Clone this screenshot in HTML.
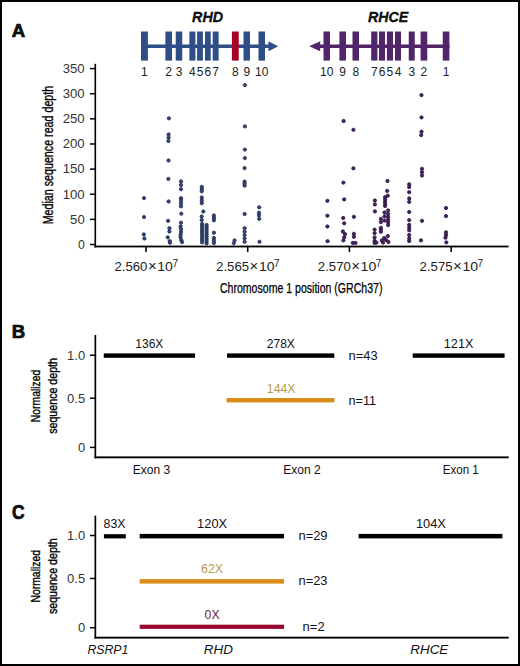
<!DOCTYPE html>
<html><head><meta charset="utf-8"><title>Figure</title>
<style>
html,body{margin:0;padding:0;background:#fff;}
body{width:520px;height:666px;overflow:hidden;}
svg{display:block;}
text{font-family:"Liberation Sans", sans-serif;}
</style></head>
<body>
<svg width="520" height="666" viewBox="0 0 520 666">
<rect x="0" y="0" width="520" height="666" fill="#fff"/>
<rect x="141" y="44.5" width="129" height="3.5" fill="#2d4e86"/>
<polygon points="268.5,41.2 278.2,46.25 268.5,51.3" fill="#2d4e86"/>
<rect x="141" y="31.5" width="6.9" height="29.1" fill="#2d4e86"/>
<rect x="165.4" y="31.5" width="6.6" height="29.1" fill="#2d4e86"/>
<rect x="175.75" y="31.5" width="6.5" height="29.1" fill="#2d4e86"/>
<rect x="189.4" y="31.5" width="6.0" height="29.1" fill="#2d4e86"/>
<rect x="197.1" y="31.5" width="5.8" height="29.1" fill="#2d4e86"/>
<rect x="205" y="31.5" width="5.7" height="29.1" fill="#2d4e86"/>
<rect x="212.7" y="31.5" width="5.9" height="29.1" fill="#2d4e86"/>
<rect x="231.9" y="31.5" width="6.85" height="29.1" fill="#a50426"/>
<rect x="243.5" y="31.5" width="6.5" height="29.1" fill="#2d4e86"/>
<rect x="258.5" y="31.5" width="6.5" height="29.1" fill="#2d4e86"/>
<rect x="319" y="44.5" width="130.4" height="3.5" fill="#52246a"/>
<polygon points="309.2,46.25 320.2,41.2 320.2,51.3" fill="#52246a"/>
<rect x="323.5" y="31.5" width="6.5" height="29.1" fill="#52246a"/>
<rect x="339.4" y="31.5" width="6.6" height="29.1" fill="#52246a"/>
<rect x="352.5" y="31.5" width="6.5" height="29.1" fill="#52246a"/>
<rect x="371.2" y="31.5" width="6.2" height="29.1" fill="#52246a"/>
<rect x="379" y="31.5" width="6" height="29.1" fill="#52246a"/>
<rect x="386.9" y="31.5" width="6.1" height="29.1" fill="#52246a"/>
<rect x="395" y="31.5" width="6" height="29.1" fill="#52246a"/>
<rect x="408.75" y="31.5" width="6.0" height="29.1" fill="#52246a"/>
<rect x="420.6" y="31.5" width="6.65" height="29.1" fill="#52246a"/>
<rect x="442.75" y="31.5" width="6.65" height="29.1" fill="#52246a"/>
<text x="144.45" y="76.2" font-size="12" text-anchor="middle" fill="#222" font-weight="normal" font-style="normal" >1</text>
<text x="168.7" y="76.2" font-size="12" text-anchor="middle" fill="#222" font-weight="normal" font-style="normal" >2</text>
<text x="179.0" y="76.2" font-size="12" text-anchor="middle" fill="#222" font-weight="normal" font-style="normal" >3</text>
<text x="192.4" y="76.2" font-size="12" text-anchor="middle" fill="#222" font-weight="normal" font-style="normal" >4</text>
<text x="200.0" y="76.2" font-size="12" text-anchor="middle" fill="#222" font-weight="normal" font-style="normal" >5</text>
<text x="207.85" y="76.2" font-size="12" text-anchor="middle" fill="#222" font-weight="normal" font-style="normal" >6</text>
<text x="215.65" y="76.2" font-size="12" text-anchor="middle" fill="#222" font-weight="normal" font-style="normal" >7</text>
<text x="235.32" y="76.2" font-size="12" text-anchor="middle" fill="#222" font-weight="normal" font-style="normal" >8</text>
<text x="246.75" y="76.2" font-size="12" text-anchor="middle" fill="#222" font-weight="normal" font-style="normal" >9</text>
<text x="261.75" y="76.2" font-size="12" text-anchor="middle" fill="#222" font-weight="normal" font-style="normal" >10</text>
<text x="326.75" y="76.2" font-size="12" text-anchor="middle" fill="#222" font-weight="normal" font-style="normal" >10</text>
<text x="342.7" y="76.2" font-size="12" text-anchor="middle" fill="#222" font-weight="normal" font-style="normal" >9</text>
<text x="355.75" y="76.2" font-size="12" text-anchor="middle" fill="#222" font-weight="normal" font-style="normal" >8</text>
<text x="374.3" y="76.2" font-size="12" text-anchor="middle" fill="#222" font-weight="normal" font-style="normal" >7</text>
<text x="382.0" y="76.2" font-size="12" text-anchor="middle" fill="#222" font-weight="normal" font-style="normal" >6</text>
<text x="389.95" y="76.2" font-size="12" text-anchor="middle" fill="#222" font-weight="normal" font-style="normal" >5</text>
<text x="398.0" y="76.2" font-size="12" text-anchor="middle" fill="#222" font-weight="normal" font-style="normal" >4</text>
<text x="411.75" y="76.2" font-size="12" text-anchor="middle" fill="#222" font-weight="normal" font-style="normal" >3</text>
<text x="423.93" y="76.2" font-size="12" text-anchor="middle" fill="#222" font-weight="normal" font-style="normal" >2</text>
<text x="446.07" y="76.2" font-size="12" text-anchor="middle" fill="#222" font-weight="normal" font-style="normal" >1</text>
<text x="207.6" y="22.2" font-size="14.3" text-anchor="middle" fill="#111" font-weight="bold" font-style="italic" stroke="#000" stroke-width="0.3">RHD</text>
<text x="388" y="22.3" font-size="14.2" text-anchor="middle" fill="#111" font-weight="bold" font-style="italic" stroke="#000" stroke-width="0.3">RHCE</text>
<text x="11.7" y="37.4" font-size="18.6" text-anchor="start" fill="#111" font-weight="bold" font-style="normal" stroke="#000" stroke-width="0.7">A</text>
<text x="11.8" y="337.8" font-size="18.6" text-anchor="start" fill="#111" font-weight="bold" font-style="normal" stroke="#000" stroke-width="0.7">B</text>
<text x="11.9" y="519.2" font-size="19.6" text-anchor="start" fill="#111" font-weight="bold" font-style="normal" textLength="12.6" lengthAdjust="spacingAndGlyphs" stroke="#000" stroke-width="0.7">C</text>
<rect x="94.5" y="63.8" width="1.6" height="183.6" fill="#000"/>
<rect x="94.5" y="245.6" width="414.1" height="1.8" fill="#000"/>
<rect x="90" y="243.75" width="5" height="1.5" fill="#000"/>
<text x="84.7" y="248.8" font-size="13" text-anchor="end" fill="#333" font-weight="normal" font-style="normal" textLength="6.8" lengthAdjust="spacingAndGlyphs" >0</text>
<rect x="90" y="218.62" width="5" height="1.5" fill="#000"/>
<text x="84.7" y="223.67" font-size="13" text-anchor="end" fill="#333" font-weight="normal" font-style="normal" textLength="14.6" lengthAdjust="spacingAndGlyphs" >50</text>
<rect x="90" y="193.49" width="5" height="1.5" fill="#000"/>
<text x="84.7" y="198.54" font-size="13" text-anchor="end" fill="#333" font-weight="normal" font-style="normal" textLength="22" lengthAdjust="spacingAndGlyphs" >100</text>
<rect x="90" y="168.36" width="5" height="1.5" fill="#000"/>
<text x="84.7" y="173.41" font-size="13" text-anchor="end" fill="#333" font-weight="normal" font-style="normal" textLength="22" lengthAdjust="spacingAndGlyphs" >150</text>
<rect x="90" y="143.23" width="5" height="1.5" fill="#000"/>
<text x="84.7" y="148.28" font-size="13" text-anchor="end" fill="#333" font-weight="normal" font-style="normal" textLength="22" lengthAdjust="spacingAndGlyphs" >200</text>
<rect x="90" y="118.1" width="5" height="1.5" fill="#000"/>
<text x="84.7" y="123.15" font-size="13" text-anchor="end" fill="#333" font-weight="normal" font-style="normal" textLength="22" lengthAdjust="spacingAndGlyphs" >250</text>
<rect x="90" y="92.97" width="5" height="1.5" fill="#000"/>
<text x="84.7" y="98.02" font-size="13" text-anchor="end" fill="#333" font-weight="normal" font-style="normal" textLength="22" lengthAdjust="spacingAndGlyphs" >300</text>
<rect x="90" y="67.83999999999997" width="5" height="1.5" fill="#000"/>
<text x="84.7" y="72.89" font-size="13" text-anchor="end" fill="#333" font-weight="normal" font-style="normal" textLength="22" lengthAdjust="spacingAndGlyphs" >350</text>
<rect x="145.2" y="247" width="1.6" height="4.9" fill="#000"/>
<text x="114.4" y="271" font-size="12.6" fill="#222" textLength="33" lengthAdjust="spacingAndGlyphs">2.560</text>
<text x="152.3" y="270.9" font-size="15" text-anchor="middle" fill="#222">×</text>
<text x="157.2" y="271" font-size="12.6" fill="#222" textLength="15.6" lengthAdjust="spacingAndGlyphs">10</text>
<text x="172.4" y="267" font-size="10" fill="#222">7</text>
<rect x="246.89999999999998" y="247" width="1.6" height="4.9" fill="#000"/>
<text x="216.1" y="271" font-size="12.6" fill="#222" textLength="33" lengthAdjust="spacingAndGlyphs">2.565</text>
<text x="254.0" y="270.9" font-size="15" text-anchor="middle" fill="#222">×</text>
<text x="258.9" y="271" font-size="12.6" fill="#222" textLength="15.6" lengthAdjust="spacingAndGlyphs">10</text>
<text x="274.1" y="267" font-size="10" fill="#222">7</text>
<rect x="348.59999999999997" y="247" width="1.6" height="4.9" fill="#000"/>
<text x="317.8" y="271" font-size="12.6" fill="#222" textLength="33" lengthAdjust="spacingAndGlyphs">2.570</text>
<text x="355.7" y="270.9" font-size="15" text-anchor="middle" fill="#222">×</text>
<text x="360.6" y="271" font-size="12.6" fill="#222" textLength="15.6" lengthAdjust="spacingAndGlyphs">10</text>
<text x="375.8" y="267" font-size="10" fill="#222">7</text>
<rect x="450.4" y="247" width="1.6" height="4.9" fill="#000"/>
<text x="419.6" y="271" font-size="12.6" fill="#222" textLength="33" lengthAdjust="spacingAndGlyphs">2.575</text>
<text x="457.5" y="270.9" font-size="15" text-anchor="middle" fill="#222">×</text>
<text x="462.4" y="271" font-size="12.6" fill="#222" textLength="15.6" lengthAdjust="spacingAndGlyphs">10</text>
<text x="477.6" y="267" font-size="10" fill="#222">7</text>
<text x="301.2" y="293" font-size="14" text-anchor="middle" fill="#000" stroke="#000" stroke-width="0.25" textLength="162.5" lengthAdjust="spacingAndGlyphs">Chromosome 1 position (GRCh37)</text>
<text transform="translate(53,224.3) rotate(-90)" font-size="15" fill="#000" stroke="#000" stroke-width="0.35" textLength="138.5" lengthAdjust="spacingAndGlyphs">Median sequence read depth</text>
<circle cx="144" cy="198.1" r="1.65" fill="#314a86" stroke="#1d2844" stroke-width="0.8"/>
<circle cx="144" cy="217.1" r="1.65" fill="#314a86" stroke="#1d2844" stroke-width="0.8"/>
<circle cx="143.8" cy="234.4" r="1.65" fill="#314a86" stroke="#1d2844" stroke-width="0.8"/>
<circle cx="144.4" cy="238.5" r="1.65" fill="#314a86" stroke="#1d2844" stroke-width="0.8"/>
<circle cx="168.9" cy="118.3" r="1.65" fill="#314a86" stroke="#1d2844" stroke-width="0.8"/>
<circle cx="168.6" cy="134.4" r="1.65" fill="#314a86" stroke="#1d2844" stroke-width="0.8"/>
<circle cx="168.6" cy="137.6" r="1.65" fill="#314a86" stroke="#1d2844" stroke-width="0.8"/>
<circle cx="168.4" cy="141" r="1.65" fill="#314a86" stroke="#1d2844" stroke-width="0.8"/>
<circle cx="168.5" cy="160.5" r="1.65" fill="#314a86" stroke="#1d2844" stroke-width="0.8"/>
<circle cx="168.4" cy="178.9" r="1.65" fill="#314a86" stroke="#1d2844" stroke-width="0.8"/>
<circle cx="168.6" cy="201.5" r="1.65" fill="#314a86" stroke="#1d2844" stroke-width="0.8"/>
<circle cx="168.1" cy="220.8" r="1.65" fill="#314a86" stroke="#1d2844" stroke-width="0.8"/>
<circle cx="169.4" cy="228.2" r="1.65" fill="#314a86" stroke="#1d2844" stroke-width="0.8"/>
<circle cx="169.4" cy="231.5" r="1.65" fill="#314a86" stroke="#1d2844" stroke-width="0.8"/>
<circle cx="167.7" cy="237.3" r="1.65" fill="#314a86" stroke="#1d2844" stroke-width="0.8"/>
<circle cx="169.7" cy="241.1" r="1.65" fill="#314a86" stroke="#1d2844" stroke-width="0.8"/>
<circle cx="170" cy="242.7" r="1.65" fill="#314a86" stroke="#1d2844" stroke-width="0.8"/>
<circle cx="181" cy="181.4" r="1.65" fill="#314a86" stroke="#1d2844" stroke-width="0.8"/>
<circle cx="181" cy="185" r="1.65" fill="#314a86" stroke="#1d2844" stroke-width="0.8"/>
<circle cx="181" cy="189.2" r="1.65" fill="#314a86" stroke="#1d2844" stroke-width="0.8"/>
<circle cx="181" cy="198.2" r="1.65" fill="#314a86" stroke="#1d2844" stroke-width="0.8"/>
<circle cx="181" cy="200.6" r="1.65" fill="#314a86" stroke="#1d2844" stroke-width="0.8"/>
<circle cx="181" cy="203.4" r="1.65" fill="#314a86" stroke="#1d2844" stroke-width="0.8"/>
<circle cx="181" cy="206.3" r="1.65" fill="#314a86" stroke="#1d2844" stroke-width="0.8"/>
<circle cx="181.3" cy="213.7" r="1.65" fill="#314a86" stroke="#1d2844" stroke-width="0.8"/>
<circle cx="181" cy="222.7" r="1.65" fill="#314a86" stroke="#1d2844" stroke-width="0.8"/>
<circle cx="180.6" cy="226.3" r="1.65" fill="#314a86" stroke="#1d2844" stroke-width="0.8"/>
<circle cx="181" cy="229.2" r="1.65" fill="#314a86" stroke="#1d2844" stroke-width="0.8"/>
<circle cx="181" cy="232.1" r="1.65" fill="#314a86" stroke="#1d2844" stroke-width="0.8"/>
<circle cx="180.6" cy="234.7" r="1.65" fill="#314a86" stroke="#1d2844" stroke-width="0.8"/>
<circle cx="180.6" cy="237.3" r="1.65" fill="#314a86" stroke="#1d2844" stroke-width="0.8"/>
<circle cx="181.3" cy="240.2" r="1.65" fill="#314a86" stroke="#1d2844" stroke-width="0.8"/>
<circle cx="182" cy="242.1" r="1.65" fill="#314a86" stroke="#1d2844" stroke-width="0.8"/>
<circle cx="201.8" cy="186.8" r="1.65" fill="#314a86" stroke="#1d2844" stroke-width="0.8"/>
<circle cx="201.8" cy="189" r="1.65" fill="#314a86" stroke="#1d2844" stroke-width="0.8"/>
<circle cx="201.8" cy="191.3" r="1.65" fill="#314a86" stroke="#1d2844" stroke-width="0.8"/>
<circle cx="201.8" cy="197.5" r="1.65" fill="#314a86" stroke="#1d2844" stroke-width="0.8"/>
<circle cx="201.8" cy="200.3" r="1.65" fill="#314a86" stroke="#1d2844" stroke-width="0.8"/>
<circle cx="201.8" cy="203.2" r="1.65" fill="#314a86" stroke="#1d2844" stroke-width="0.8"/>
<circle cx="203.3" cy="211.5" r="1.65" fill="#314a86" stroke="#1d2844" stroke-width="0.8"/>
<circle cx="201.7" cy="216.5" r="1.65" fill="#314a86" stroke="#1d2844" stroke-width="0.8"/>
<circle cx="201.7" cy="220" r="1.65" fill="#314a86" stroke="#1d2844" stroke-width="0.8"/>
<circle cx="213.9" cy="215.5" r="1.65" fill="#314a86" stroke="#1d2844" stroke-width="0.8"/>
<circle cx="213.9" cy="218" r="1.65" fill="#314a86" stroke="#1d2844" stroke-width="0.8"/>
<circle cx="213.9" cy="220.3" r="1.65" fill="#314a86" stroke="#1d2844" stroke-width="0.8"/>
<circle cx="213.9" cy="232.7" r="1.65" fill="#314a86" stroke="#1d2844" stroke-width="0.8"/>
<circle cx="213.9" cy="238" r="1.65" fill="#314a86" stroke="#1d2844" stroke-width="0.8"/>
<circle cx="213.9" cy="240.5" r="1.65" fill="#314a86" stroke="#1d2844" stroke-width="0.8"/>
<circle cx="213.9" cy="243" r="1.65" fill="#314a86" stroke="#1d2844" stroke-width="0.8"/>
<circle cx="244.9" cy="85.1" r="1.65" fill="#314a86" stroke="#1d2844" stroke-width="0.8"/>
<circle cx="244.9" cy="126.4" r="1.65" fill="#314a86" stroke="#1d2844" stroke-width="0.8"/>
<circle cx="244.9" cy="149.6" r="1.65" fill="#314a86" stroke="#1d2844" stroke-width="0.8"/>
<circle cx="244.9" cy="158.1" r="1.65" fill="#314a86" stroke="#1d2844" stroke-width="0.8"/>
<circle cx="244.6" cy="168.1" r="1.65" fill="#314a86" stroke="#1d2844" stroke-width="0.8"/>
<circle cx="244.6" cy="181.6" r="1.65" fill="#314a86" stroke="#1d2844" stroke-width="0.8"/>
<circle cx="244.6" cy="183.6" r="1.65" fill="#314a86" stroke="#1d2844" stroke-width="0.8"/>
<circle cx="244.6" cy="185.7" r="1.65" fill="#314a86" stroke="#1d2844" stroke-width="0.8"/>
<circle cx="244.6" cy="214" r="1.65" fill="#314a86" stroke="#1d2844" stroke-width="0.8"/>
<circle cx="244.6" cy="228.2" r="1.65" fill="#314a86" stroke="#1d2844" stroke-width="0.8"/>
<circle cx="244.6" cy="231.6" r="1.65" fill="#314a86" stroke="#1d2844" stroke-width="0.8"/>
<circle cx="244.6" cy="235" r="1.65" fill="#314a86" stroke="#1d2844" stroke-width="0.8"/>
<circle cx="244.6" cy="238.4" r="1.65" fill="#314a86" stroke="#1d2844" stroke-width="0.8"/>
<circle cx="244.6" cy="241.8" r="1.65" fill="#314a86" stroke="#1d2844" stroke-width="0.8"/>
<circle cx="234.6" cy="240.4" r="1.65" fill="#314a86" stroke="#1d2844" stroke-width="0.8"/>
<circle cx="233.8" cy="243.1" r="1.65" fill="#314a86" stroke="#1d2844" stroke-width="0.8"/>
<circle cx="259.2" cy="207.3" r="1.65" fill="#314a86" stroke="#1d2844" stroke-width="0.8"/>
<circle cx="259" cy="212.7" r="1.65" fill="#314a86" stroke="#1d2844" stroke-width="0.8"/>
<circle cx="259" cy="215.4" r="1.65" fill="#314a86" stroke="#1d2844" stroke-width="0.8"/>
<circle cx="259.2" cy="218.8" r="1.65" fill="#314a86" stroke="#1d2844" stroke-width="0.8"/>
<circle cx="259.5" cy="241.8" r="1.65" fill="#314a86" stroke="#1d2844" stroke-width="0.8"/>
<circle cx="202.1" cy="224.0" r="1.65" fill="#314a86" stroke="#1d2844" stroke-width="0.8"/>
<circle cx="206.6" cy="225.0" r="1.65" fill="#314a86" stroke="#1d2844" stroke-width="0.8"/>
<circle cx="202.1" cy="226.3" r="1.65" fill="#314a86" stroke="#1d2844" stroke-width="0.8"/>
<circle cx="206.6" cy="227.3" r="1.65" fill="#314a86" stroke="#1d2844" stroke-width="0.8"/>
<circle cx="202.1" cy="228.6" r="1.65" fill="#314a86" stroke="#1d2844" stroke-width="0.8"/>
<circle cx="206.6" cy="229.6" r="1.65" fill="#314a86" stroke="#1d2844" stroke-width="0.8"/>
<circle cx="202.1" cy="230.9" r="1.65" fill="#314a86" stroke="#1d2844" stroke-width="0.8"/>
<circle cx="206.6" cy="231.9" r="1.65" fill="#314a86" stroke="#1d2844" stroke-width="0.8"/>
<circle cx="202.1" cy="233.2" r="1.65" fill="#314a86" stroke="#1d2844" stroke-width="0.8"/>
<circle cx="206.6" cy="234.2" r="1.65" fill="#314a86" stroke="#1d2844" stroke-width="0.8"/>
<circle cx="202.1" cy="235.5" r="1.65" fill="#314a86" stroke="#1d2844" stroke-width="0.8"/>
<circle cx="206.6" cy="236.5" r="1.65" fill="#314a86" stroke="#1d2844" stroke-width="0.8"/>
<circle cx="202.1" cy="237.8" r="1.65" fill="#314a86" stroke="#1d2844" stroke-width="0.8"/>
<circle cx="206.6" cy="238.8" r="1.65" fill="#314a86" stroke="#1d2844" stroke-width="0.8"/>
<circle cx="202.1" cy="240.1" r="1.65" fill="#314a86" stroke="#1d2844" stroke-width="0.8"/>
<circle cx="206.6" cy="241.1" r="1.65" fill="#314a86" stroke="#1d2844" stroke-width="0.8"/>
<circle cx="202.1" cy="242.4" r="1.65" fill="#314a86" stroke="#1d2844" stroke-width="0.8"/>
<circle cx="206.6" cy="243.4" r="1.65" fill="#314a86" stroke="#1d2844" stroke-width="0.8"/>
<circle cx="327.4" cy="200.8" r="1.65" fill="#4a2068" stroke="#2a1238" stroke-width="0.8"/>
<circle cx="327.4" cy="215.7" r="1.65" fill="#4a2068" stroke="#2a1238" stroke-width="0.8"/>
<circle cx="327.4" cy="226.5" r="1.65" fill="#4a2068" stroke="#2a1238" stroke-width="0.8"/>
<circle cx="327.6" cy="241.2" r="1.65" fill="#4a2068" stroke="#2a1238" stroke-width="0.8"/>
<circle cx="343.6" cy="121" r="1.65" fill="#4a2068" stroke="#2a1238" stroke-width="0.8"/>
<circle cx="343.4" cy="182.6" r="1.65" fill="#4a2068" stroke="#2a1238" stroke-width="0.8"/>
<circle cx="344.2" cy="199.4" r="1.65" fill="#4a2068" stroke="#2a1238" stroke-width="0.8"/>
<circle cx="343.2" cy="218" r="1.65" fill="#4a2068" stroke="#2a1238" stroke-width="0.8"/>
<circle cx="344.2" cy="223.3" r="1.65" fill="#4a2068" stroke="#2a1238" stroke-width="0.8"/>
<circle cx="342.9" cy="231.5" r="1.65" fill="#4a2068" stroke="#2a1238" stroke-width="0.8"/>
<circle cx="345" cy="234.1" r="1.65" fill="#4a2068" stroke="#2a1238" stroke-width="0.8"/>
<circle cx="344.2" cy="237.3" r="1.65" fill="#4a2068" stroke="#2a1238" stroke-width="0.8"/>
<circle cx="343.4" cy="240.4" r="1.65" fill="#4a2068" stroke="#2a1238" stroke-width="0.8"/>
<circle cx="353.4" cy="129.8" r="1.65" fill="#4a2068" stroke="#2a1238" stroke-width="0.8"/>
<circle cx="353.4" cy="168.3" r="1.65" fill="#4a2068" stroke="#2a1238" stroke-width="0.8"/>
<circle cx="353.9" cy="216.8" r="1.65" fill="#4a2068" stroke="#2a1238" stroke-width="0.8"/>
<circle cx="353.9" cy="233.8" r="1.65" fill="#4a2068" stroke="#2a1238" stroke-width="0.8"/>
<circle cx="353.9" cy="236.8" r="1.65" fill="#4a2068" stroke="#2a1238" stroke-width="0.8"/>
<circle cx="352.8" cy="242.9" r="1.65" fill="#4a2068" stroke="#2a1238" stroke-width="0.8"/>
<circle cx="355.5" cy="242.9" r="1.65" fill="#4a2068" stroke="#2a1238" stroke-width="0.8"/>
<circle cx="387.5" cy="181" r="1.65" fill="#4a2068" stroke="#2a1238" stroke-width="0.8"/>
<circle cx="387.2" cy="190.9" r="1.65" fill="#4a2068" stroke="#2a1238" stroke-width="0.8"/>
<circle cx="387.8" cy="195.7" r="1.65" fill="#4a2068" stroke="#2a1238" stroke-width="0.8"/>
<circle cx="385.1" cy="197.2" r="1.65" fill="#4a2068" stroke="#2a1238" stroke-width="0.8"/>
<circle cx="385.1" cy="199.6" r="1.65" fill="#4a2068" stroke="#2a1238" stroke-width="0.8"/>
<circle cx="385.1" cy="202" r="1.65" fill="#4a2068" stroke="#2a1238" stroke-width="0.8"/>
<circle cx="385.1" cy="204.4" r="1.65" fill="#4a2068" stroke="#2a1238" stroke-width="0.8"/>
<circle cx="385.1" cy="206" r="1.65" fill="#4a2068" stroke="#2a1238" stroke-width="0.8"/>
<circle cx="374.9" cy="200.5" r="1.65" fill="#4a2068" stroke="#2a1238" stroke-width="0.8"/>
<circle cx="374.9" cy="204.4" r="1.65" fill="#4a2068" stroke="#2a1238" stroke-width="0.8"/>
<circle cx="374.9" cy="211.4" r="1.65" fill="#4a2068" stroke="#2a1238" stroke-width="0.8"/>
<circle cx="388.1" cy="210.4" r="1.65" fill="#4a2068" stroke="#2a1238" stroke-width="0.8"/>
<circle cx="388.1" cy="214" r="1.65" fill="#4a2068" stroke="#2a1238" stroke-width="0.8"/>
<circle cx="388.1" cy="217" r="1.65" fill="#4a2068" stroke="#2a1238" stroke-width="0.8"/>
<circle cx="388.1" cy="220" r="1.65" fill="#4a2068" stroke="#2a1238" stroke-width="0.8"/>
<circle cx="388.1" cy="222.4" r="1.65" fill="#4a2068" stroke="#2a1238" stroke-width="0.8"/>
<circle cx="388.1" cy="225.1" r="1.65" fill="#4a2068" stroke="#2a1238" stroke-width="0.8"/>
<circle cx="384.5" cy="212.5" r="1.65" fill="#4a2068" stroke="#2a1238" stroke-width="0.8"/>
<circle cx="384.5" cy="216.4" r="1.65" fill="#4a2068" stroke="#2a1238" stroke-width="0.8"/>
<circle cx="384.5" cy="220.6" r="1.65" fill="#4a2068" stroke="#2a1238" stroke-width="0.8"/>
<circle cx="380.9" cy="218.8" r="1.65" fill="#4a2068" stroke="#2a1238" stroke-width="0.8"/>
<circle cx="380.9" cy="222.1" r="1.65" fill="#4a2068" stroke="#2a1238" stroke-width="0.8"/>
<circle cx="380.9" cy="227.8" r="1.65" fill="#4a2068" stroke="#2a1238" stroke-width="0.8"/>
<circle cx="380.9" cy="229.6" r="1.65" fill="#4a2068" stroke="#2a1238" stroke-width="0.8"/>
<circle cx="380.9" cy="231.7" r="1.65" fill="#4a2068" stroke="#2a1238" stroke-width="0.8"/>
<circle cx="374.6" cy="229.6" r="1.65" fill="#4a2068" stroke="#2a1238" stroke-width="0.8"/>
<circle cx="374.6" cy="233.2" r="1.65" fill="#4a2068" stroke="#2a1238" stroke-width="0.8"/>
<circle cx="374.6" cy="237.4" r="1.65" fill="#4a2068" stroke="#2a1238" stroke-width="0.8"/>
<circle cx="374.6" cy="240.8" r="1.65" fill="#4a2068" stroke="#2a1238" stroke-width="0.8"/>
<circle cx="374.6" cy="242.9" r="1.65" fill="#4a2068" stroke="#2a1238" stroke-width="0.8"/>
<circle cx="376.4" cy="242.6" r="1.65" fill="#4a2068" stroke="#2a1238" stroke-width="0.8"/>
<circle cx="387.8" cy="236" r="1.65" fill="#4a2068" stroke="#2a1238" stroke-width="0.8"/>
<circle cx="384.2" cy="238" r="1.65" fill="#4a2068" stroke="#2a1238" stroke-width="0.8"/>
<circle cx="381.8" cy="240.5" r="1.65" fill="#4a2068" stroke="#2a1238" stroke-width="0.8"/>
<circle cx="388.4" cy="242" r="1.65" fill="#4a2068" stroke="#2a1238" stroke-width="0.8"/>
<circle cx="383" cy="242.6" r="1.65" fill="#4a2068" stroke="#2a1238" stroke-width="0.8"/>
<circle cx="386" cy="239.9" r="1.65" fill="#4a2068" stroke="#2a1238" stroke-width="0.8"/>
<circle cx="409.2" cy="184.3" r="1.65" fill="#4a2068" stroke="#2a1238" stroke-width="0.8"/>
<circle cx="409.2" cy="187" r="1.65" fill="#4a2068" stroke="#2a1238" stroke-width="0.8"/>
<circle cx="409.2" cy="192.2" r="1.65" fill="#4a2068" stroke="#2a1238" stroke-width="0.8"/>
<circle cx="409.2" cy="198.5" r="1.65" fill="#4a2068" stroke="#2a1238" stroke-width="0.8"/>
<circle cx="409.2" cy="201.9" r="1.65" fill="#4a2068" stroke="#2a1238" stroke-width="0.8"/>
<circle cx="409.2" cy="212" r="1.65" fill="#4a2068" stroke="#2a1238" stroke-width="0.8"/>
<circle cx="409.2" cy="220.1" r="1.65" fill="#4a2068" stroke="#2a1238" stroke-width="0.8"/>
<circle cx="409.2" cy="224.9" r="1.65" fill="#4a2068" stroke="#2a1238" stroke-width="0.8"/>
<circle cx="409.2" cy="227.6" r="1.65" fill="#4a2068" stroke="#2a1238" stroke-width="0.8"/>
<circle cx="409.2" cy="230.3" r="1.65" fill="#4a2068" stroke="#2a1238" stroke-width="0.8"/>
<circle cx="409.2" cy="235" r="1.65" fill="#4a2068" stroke="#2a1238" stroke-width="0.8"/>
<circle cx="409.2" cy="238.4" r="1.65" fill="#4a2068" stroke="#2a1238" stroke-width="0.8"/>
<circle cx="409.2" cy="241.1" r="1.65" fill="#4a2068" stroke="#2a1238" stroke-width="0.8"/>
<circle cx="421.5" cy="95.1" r="1.65" fill="#4a2068" stroke="#2a1238" stroke-width="0.8"/>
<circle cx="421.5" cy="117.4" r="1.65" fill="#4a2068" stroke="#2a1238" stroke-width="0.8"/>
<circle cx="421.5" cy="131.7" r="1.65" fill="#4a2068" stroke="#2a1238" stroke-width="0.8"/>
<circle cx="421.2" cy="135.1" r="1.65" fill="#4a2068" stroke="#2a1238" stroke-width="0.8"/>
<circle cx="422" cy="168.8" r="1.65" fill="#4a2068" stroke="#2a1238" stroke-width="0.8"/>
<circle cx="422" cy="172.2" r="1.65" fill="#4a2068" stroke="#2a1238" stroke-width="0.8"/>
<circle cx="422" cy="175.5" r="1.65" fill="#4a2068" stroke="#2a1238" stroke-width="0.8"/>
<circle cx="422" cy="220.8" r="1.65" fill="#4a2068" stroke="#2a1238" stroke-width="0.8"/>
<circle cx="421" cy="240.4" r="1.65" fill="#4a2068" stroke="#2a1238" stroke-width="0.8"/>
<circle cx="446" cy="208" r="1.65" fill="#4a2068" stroke="#2a1238" stroke-width="0.8"/>
<circle cx="446" cy="216.1" r="1.65" fill="#4a2068" stroke="#2a1238" stroke-width="0.8"/>
<circle cx="446" cy="232.3" r="1.65" fill="#4a2068" stroke="#2a1238" stroke-width="0.8"/>
<circle cx="446" cy="235" r="1.65" fill="#4a2068" stroke="#2a1238" stroke-width="0.8"/>
<circle cx="445.5" cy="237.7" r="1.65" fill="#4a2068" stroke="#2a1238" stroke-width="0.8"/>
<circle cx="446.3" cy="242.4" r="1.65" fill="#4a2068" stroke="#2a1238" stroke-width="0.8"/>
<rect x="94.5" y="335" width="1.7" height="123.3" fill="#000"/>
<rect x="94.5" y="456.4" width="414.2" height="1.9" fill="#000"/>
<rect x="90" y="354.45" width="5" height="1.5" fill="#000"/>
<text x="85.2" y="359.6" font-size="13" text-anchor="end" fill="#333" font-weight="normal" font-style="normal" >1.0</text>
<rect x="90" y="397.45" width="5" height="1.5" fill="#000"/>
<text x="85.2" y="402.6" font-size="13" text-anchor="end" fill="#333" font-weight="normal" font-style="normal" >0.5</text>
<rect x="90" y="446.65" width="5" height="1.5" fill="#000"/>
<text x="85.2" y="451.8" font-size="13" text-anchor="end" fill="#333" font-weight="normal" font-style="normal" >0</text>
<text transform="translate(39.8,422.2) rotate(-90)" font-size="13.5" fill="#000" stroke="#000" stroke-width="0.35" textLength="52.5" lengthAdjust="spacingAndGlyphs">Normalized</text>
<text transform="translate(56.6,433.8) rotate(-90)" font-size="13" fill="#000" stroke="#000" stroke-width="0.35" textLength="75.8" lengthAdjust="spacingAndGlyphs">sequence depth</text>
<rect x="103.75" y="353.4" width="91.25" height="4.4" fill="#000"/>
<rect x="227" y="353.4" width="107.3" height="4.4" fill="#000"/>
<rect x="412.7" y="353.4" width="91.9" height="4.4" fill="#000"/>
<rect x="226.5" y="398.0" width="107.9" height="4.4" fill="#d98c1a"/>
<text x="149.3" y="348" font-size="12" text-anchor="middle" fill="#111" font-weight="normal" font-style="normal" textLength="28" lengthAdjust="spacingAndGlyphs" >136X</text>
<text x="280.8" y="348" font-size="12" text-anchor="middle" fill="#111" font-weight="normal" font-style="normal" textLength="28" lengthAdjust="spacingAndGlyphs" >278X</text>
<text x="458.6" y="348" font-size="12" text-anchor="middle" fill="#111" font-weight="normal" font-style="normal" textLength="29.5" lengthAdjust="spacingAndGlyphs" >121X</text>
<text x="281.1" y="392.5" font-size="12" text-anchor="middle" fill="#b89a48" font-weight="normal" font-style="normal" textLength="28.5" lengthAdjust="spacingAndGlyphs" >144X</text>
<text x="348.6" y="359.8" font-size="12" text-anchor="start" fill="#111" font-weight="normal" font-style="normal" textLength="29" lengthAdjust="spacingAndGlyphs" >n=43</text>
<text x="348.6" y="405" font-size="12" text-anchor="start" fill="#111" font-weight="normal" font-style="normal" textLength="27.5" lengthAdjust="spacingAndGlyphs" >n=11</text>
<text x="151.5" y="473.8" font-size="12" text-anchor="middle" fill="#111" font-weight="normal" font-style="normal" textLength="37.5" lengthAdjust="spacingAndGlyphs" >Exon 3</text>
<text x="302" y="473.8" font-size="12" text-anchor="middle" fill="#111" font-weight="normal" font-style="normal" textLength="37.5" lengthAdjust="spacingAndGlyphs" >Exon 2</text>
<text x="460.8" y="473.8" font-size="12" text-anchor="middle" fill="#111" font-weight="normal" font-style="normal" textLength="36" lengthAdjust="spacingAndGlyphs" >Exon 1</text>
<rect x="94.5" y="515.6" width="1.7" height="123.0" fill="#000"/>
<rect x="94.5" y="636.7" width="414.2" height="1.9" fill="#000"/>
<rect x="90" y="534.75" width="5" height="1.5" fill="#000"/>
<text x="85.2" y="539.9" font-size="13" text-anchor="end" fill="#333" font-weight="normal" font-style="normal" >1.0</text>
<rect x="90" y="577.75" width="5" height="1.5" fill="#000"/>
<text x="85.2" y="582.9" font-size="13" text-anchor="end" fill="#333" font-weight="normal" font-style="normal" >0.5</text>
<rect x="90" y="626.95" width="5" height="1.5" fill="#000"/>
<text x="85.2" y="632.1" font-size="13" text-anchor="end" fill="#333" font-weight="normal" font-style="normal" >0</text>
<text transform="translate(39.8,602.5) rotate(-90)" font-size="13.5" fill="#000" stroke="#000" stroke-width="0.35" textLength="52.5" lengthAdjust="spacingAndGlyphs">Normalized</text>
<text transform="translate(56.6,614.1) rotate(-90)" font-size="13" fill="#000" stroke="#000" stroke-width="0.35" textLength="75.8" lengthAdjust="spacingAndGlyphs">sequence depth</text>
<rect x="103.9" y="534.2" width="21.9" height="4.2" fill="#000"/>
<rect x="139.7" y="533.9" width="144.3" height="4.5" fill="#000"/>
<rect x="358.6" y="533.9" width="143.8" height="4.5" fill="#000"/>
<rect x="139.7" y="579.1" width="144.3" height="4.5" fill="#d98c1a"/>
<rect x="139.7" y="624.7" width="144.3" height="4.2" fill="#96062c"/>
<text x="114.6" y="528.1" font-size="12" text-anchor="middle" fill="#111" font-weight="normal" font-style="normal" textLength="22" lengthAdjust="spacingAndGlyphs" >83X</text>
<text x="212.1" y="528.4" font-size="12" text-anchor="middle" fill="#111" font-weight="normal" font-style="normal" textLength="30" lengthAdjust="spacingAndGlyphs" >120X</text>
<text x="430.9" y="527.8" font-size="12" text-anchor="middle" fill="#111" font-weight="normal" font-style="normal" textLength="30" lengthAdjust="spacingAndGlyphs" >104X</text>
<text x="212.1" y="573.1" font-size="12" text-anchor="middle" fill="#b89a48" font-weight="normal" font-style="normal" textLength="22" lengthAdjust="spacingAndGlyphs" >62X</text>
<text x="212.1" y="619" font-size="12" text-anchor="middle" fill="#6a2040" font-weight="normal" font-style="normal" textLength="15" lengthAdjust="spacingAndGlyphs" >0X</text>
<text x="298.5" y="540" font-size="12" text-anchor="start" fill="#111" font-weight="normal" font-style="normal" textLength="29" lengthAdjust="spacingAndGlyphs" >n=29</text>
<text x="298.5" y="584.8" font-size="12" text-anchor="start" fill="#111" font-weight="normal" font-style="normal" textLength="29" lengthAdjust="spacingAndGlyphs" >n=23</text>
<text x="302.6" y="631.4" font-size="12" text-anchor="start" fill="#111" font-weight="normal" font-style="normal" textLength="22" lengthAdjust="spacingAndGlyphs" >n=2</text>
<text x="107.9" y="654.2" font-size="13" text-anchor="middle" fill="#111" font-weight="normal" font-style="italic" textLength="41" lengthAdjust="spacingAndGlyphs" >RSRP1</text>
<text x="218.3" y="654.2" font-size="13" text-anchor="middle" fill="#111" font-weight="normal" font-style="italic" textLength="29" lengthAdjust="spacingAndGlyphs" >RHD</text>
<text x="429.3" y="654.2" font-size="13" text-anchor="middle" fill="#111" font-weight="normal" font-style="italic" textLength="38" lengthAdjust="spacingAndGlyphs" >RHCE</text>
<rect x="1" y="1" width="518" height="664" fill="none" stroke="#000" stroke-width="2"/>
</svg>
</body></html>
